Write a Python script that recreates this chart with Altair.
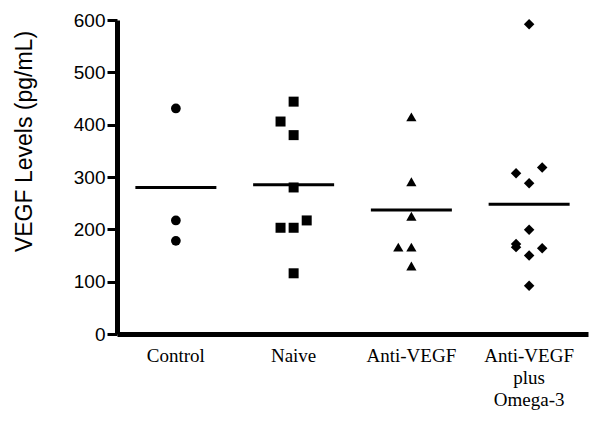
import altair as alt
import pandas as pd

categories = ["Control", "Naive", "Anti-VEGF", "Anti-VEGF plus Omega-3"]
shapes = ["circle", "square", "triangle-up", "diamond"]
sizes = [95, 110, 100, 130]

control_vals = [431, 217, 178]
control_off = [0, 0, 0]
naive_vals = [444, 406, 380, 280, 217, 203, 203, 116]
naive_off = [0, -1, 0, 0, 1, -1, 0, 0]
anti_vals = [415, 291, 225, 166, 166, 130]
anti_off = [0, 0, 0, -1, 0, 0]
omega_vals = [592, 318, 307, 288, 199, 172, 166, 164, 150, 92]
omega_off = [0, 1, -1, 0, 0, -1, -1, 1, 0, 0]
group_means = [280, 285, 237, 248]

rows = []
for cat, vals, offs in zip(categories,
                           [control_vals, naive_vals, anti_vals, omega_vals],
                           [control_off, naive_off, anti_off, omega_off]):
    for v, o in zip(vals, offs):
        rows.append({"group": cat, "value": v, "off": o})
df = pd.DataFrame(rows)
means = pd.DataFrame({"group": categories, "mean": group_means})

xscale = alt.Scale(domain=categories, paddingInner=0, paddingOuter=0)
xaxis = alt.Axis(ticks=False, domainColor="#000000", domainWidth=5,
                 labelAngle=0, labelFont="Liberation Serif", labelFontSize=19,
                 labelColor="black", labelPadding=12, labelLineHeight=22,
                 labelBaseline="top", labelAlign="center",
                 labelExpr="datum.value == 'Anti-VEGF plus Omega-3' ? ['Anti-VEGF', 'plus', 'Omega-3'] : datum.label")
yscale = alt.Scale(domain=[0, 600], nice=False)
yaxis = alt.Axis(values=[0, 100, 200, 300, 400, 500, 600], grid=False,
                 domainColor="#000000", domainWidth=5,
                 tickColor="#000000", tickWidth=3, tickSize=10,
                 labelFont="Liberation Sans", labelFontSize=19,
                 labelColor="black", labelPadding=2,
                 title="VEGF Levels (pg/mL)", titleFont="Liberation Sans",
                 titleFontSize=23, titleFontWeight="normal", titleColor="black",
                 titleX=-93, titleY=121, titleAngle=-90, titleAlign="center",
                 titleBaseline="middle")

points = alt.Chart(df).mark_point(filled=True, opacity=1, color="black").encode(
    x=alt.X("group:N", sort=categories, title=None, scale=xscale, axis=xaxis),
    xOffset=alt.XOffset("off:Q", scale=alt.Scale(domain=[-4.5, 4.5])),
    y=alt.Y("value:Q", scale=yscale, axis=yaxis),
    shape=alt.Shape("group:N", scale=alt.Scale(domain=categories, range=shapes), legend=None),
    size=alt.Size("group:N", scale=alt.Scale(domain=categories, range=sizes), legend=None),
)

mean_ticks = alt.Chart(means).mark_tick(color="black", opacity=1, thickness=3, size=81,
                                        orient="horizontal").encode(
    x=alt.X("group:N", sort=categories, title=None, scale=xscale, axis=xaxis),
    y=alt.Y("mean:Q", scale=yscale, axis=yaxis),
)

chart = alt.layer(mean_ticks, points).properties(
    width=471, height=314,
    autosize=alt.AutoSizeParams(type="none"),
    padding={"left": 109, "top": 12, "right": 5, "bottom": 83},
    background="white",
).configure_view(stroke=None)

chart.save("out.html", embed_options={"renderer": "svg", "actions": False})
